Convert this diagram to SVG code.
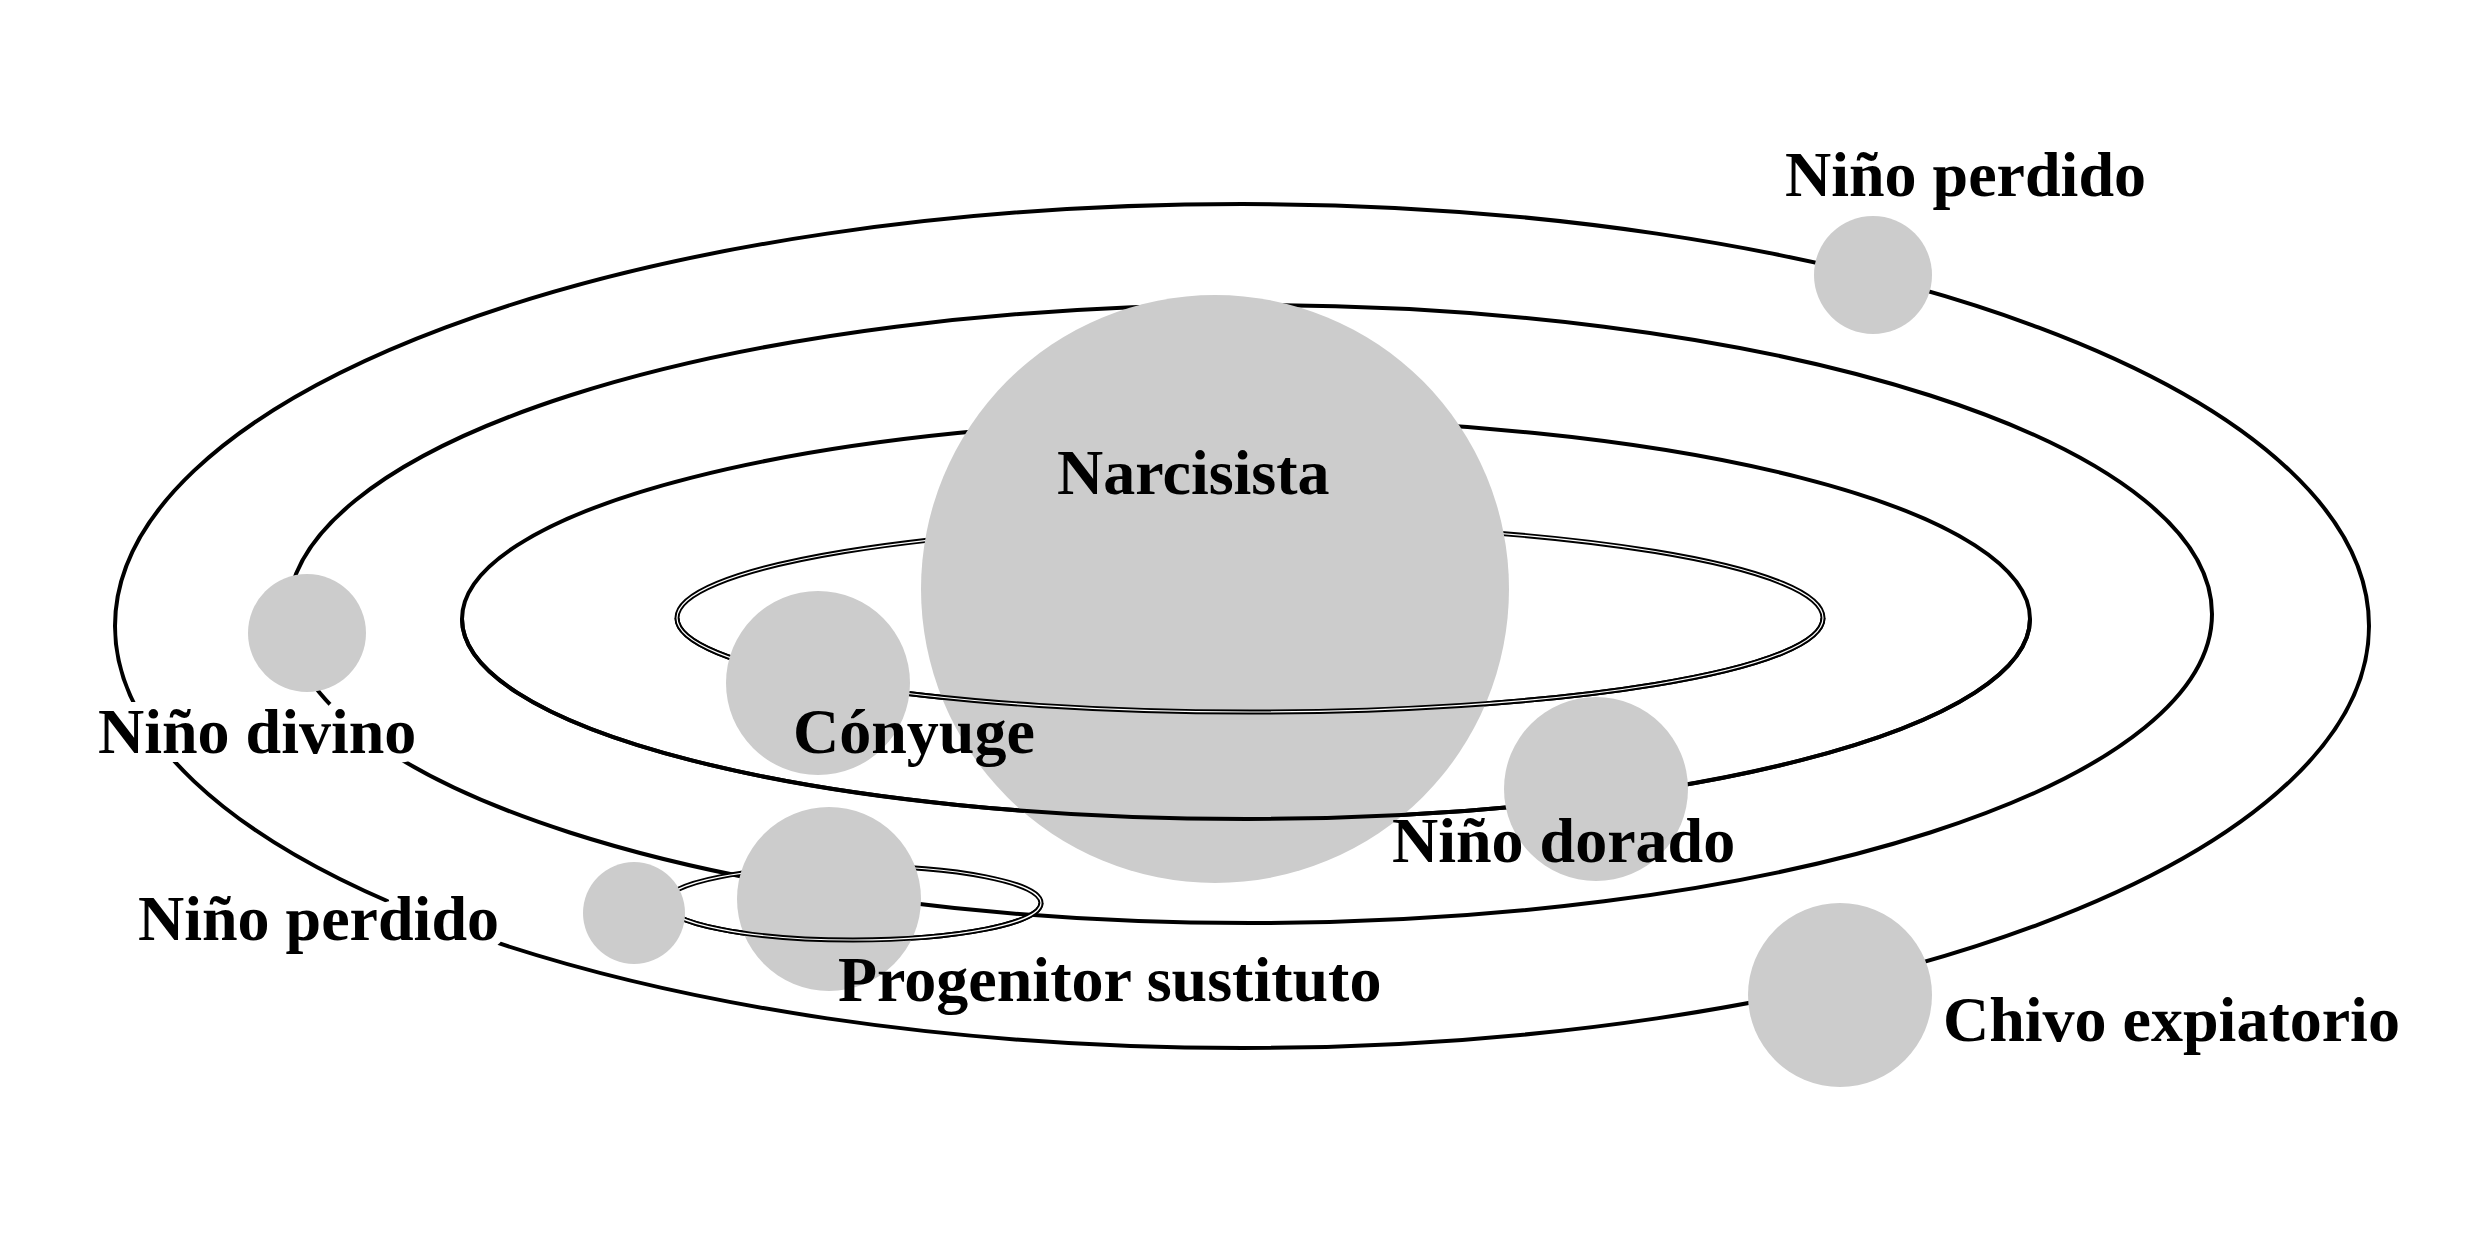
<svg xmlns="http://www.w3.org/2000/svg" width="2480" height="1237" viewBox="0 0 2480 1237">
<style>
.o{fill:none;stroke:#000;stroke-width:4}
.d{fill:none;stroke:#000;stroke-width:5}
.dw{fill:none;stroke:#fff;stroke-width:1.2}
.p{fill:#cccccc}
text{font-family:"Liberation Serif","Times New Roman",serif;font-weight:bold;font-size:64px;fill:#000}
.h{stroke:#fff;stroke-width:18;paint-order:stroke;stroke-linejoin:round}
</style>
<rect width="2480" height="1237" fill="#fff"/>
<g id="connectors">
<ellipse class="o" cx="1242" cy="626" rx="1127" ry="422"/>
<ellipse class="o" cx="1250" cy="614" rx="962" ry="309"/>
<ellipse class="o" cx="1246" cy="619" rx="784" ry="200"/>
<ellipse class="d" cx="1250" cy="618" rx="573" ry="94"/>
<ellipse class="dw" cx="1250" cy="618" rx="573" ry="94"/>
<ellipse class="d" cx="853" cy="903" rx="188" ry="37"/>
<ellipse class="dw" cx="853" cy="903" rx="188" ry="37"/>
</g>
<g id="narcisista">
<circle class="p" cx="1215" cy="589" r="294"/>
<text x="1057" y="494">Narcisista</text>
</g>
<g id="front-arcs">
<path class="d" d="M677 618 A573 94 0 0 0 1823 618"/>
<path class="dw" d="M677 618 A573 94 0 0 0 1823 618"/>
<path class="o" d="M462 619 A784 200 0 0 0 2030 619"/>
</g>
<g id="conyuge">
<circle class="p" cx="818" cy="683" r="92"/>
<text x="793" y="753">Cónyuge</text>
</g>
<g id="nino-divino">
<circle class="p" cx="307" cy="633" r="59"/>
<text class="h" x="98" y="753">Niño divino</text>
</g>
<g id="nino-dorado">
<circle class="p" cx="1596" cy="789" r="92"/>
<text x="1392" y="862">Niño dorado</text>
</g>
<g id="nino-perdido-top">
<circle class="p" cx="1873" cy="275" r="59"/>
<text x="1785" y="196">Niño perdido</text>
</g>
<g id="progenitor">
<circle class="p" cx="829" cy="899" r="92"/>
<path class="d" d="M665 903 A188 37 0 0 0 1041 903"/>
<path class="dw" d="M665 903 A188 37 0 0 0 1041 903"/>
<text x="838" y="1001">Progenitor sustituto</text>
</g>
<g id="nino-perdido-small">
<circle class="p" cx="634" cy="913" r="51"/>
<text class="h" x="138" y="940">Niño perdido</text>
</g>
<g id="chivo">
<circle class="p" cx="1840" cy="995" r="92"/>
<text x="1943" y="1041">Chivo expiatorio</text>
</g>
</svg>
